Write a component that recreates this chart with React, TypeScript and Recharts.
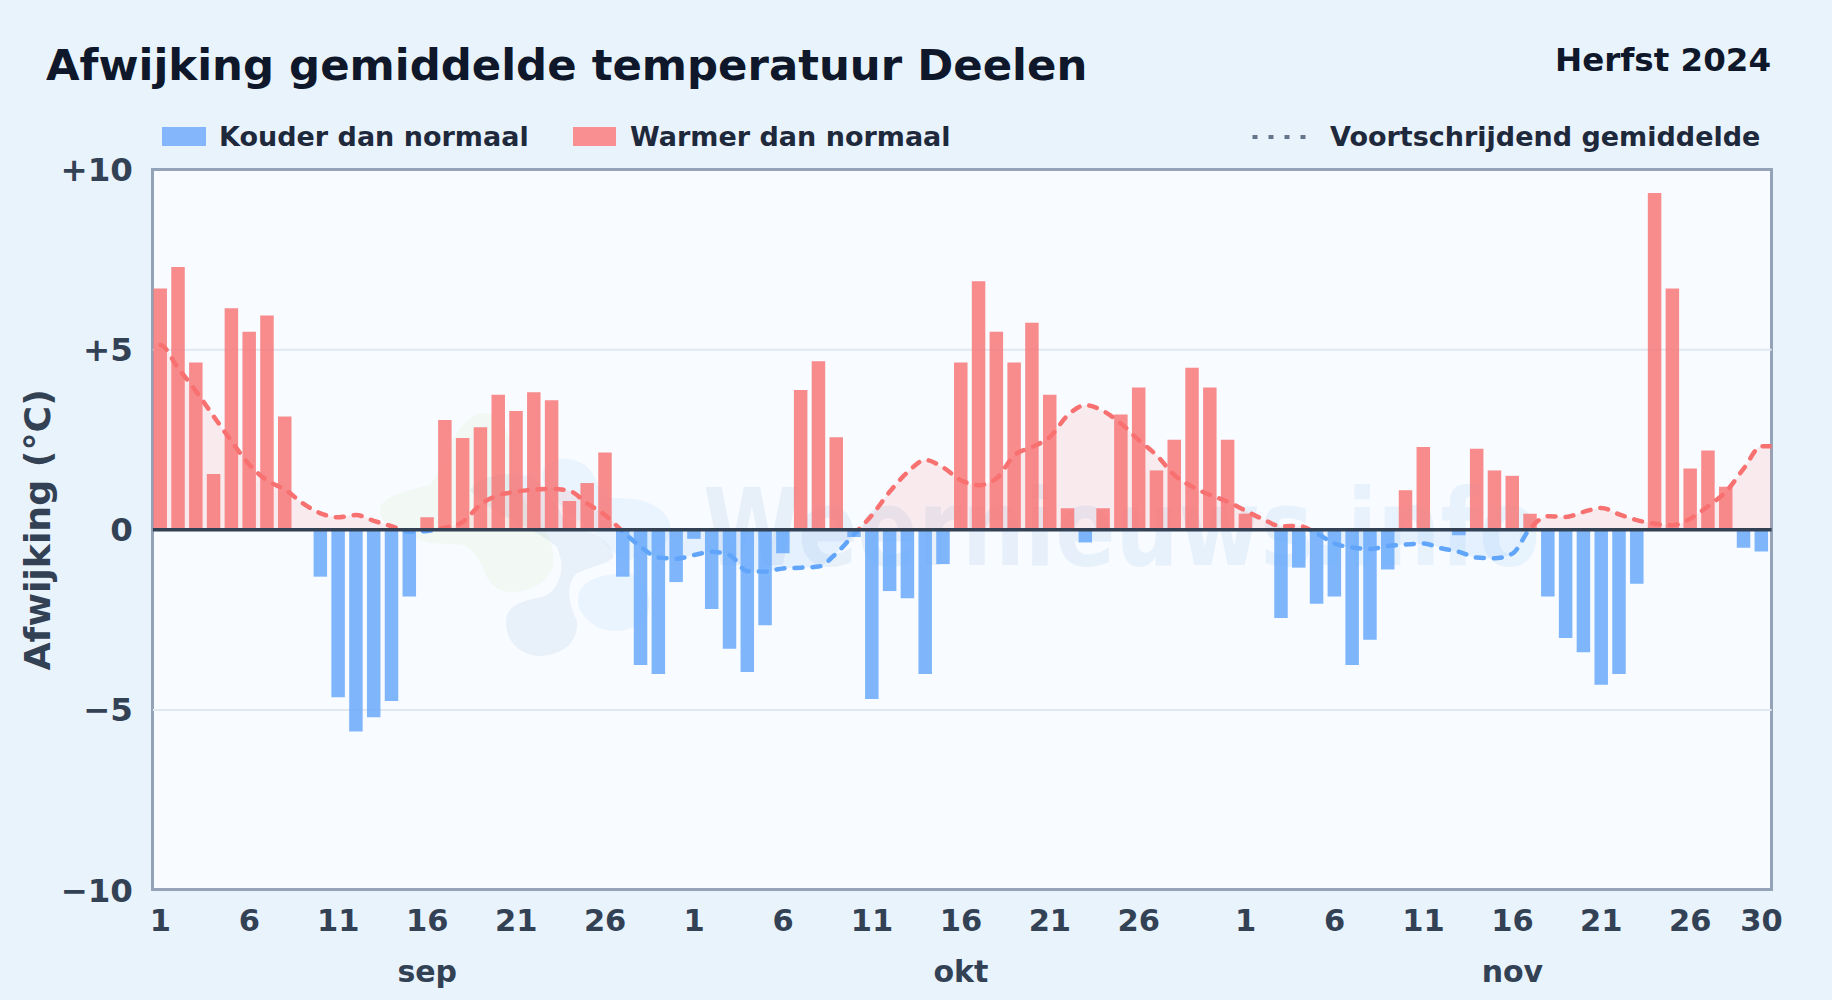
import React from "react";
import { ComposedChart, Area, Bar, XAxis, YAxis, CartesianGrid, ReferenceLine } from "recharts";

const FONT = "'DejaVu Sans', sans-serif";

const deviations = [
  6.7, 7.3, 4.65, 1.55, 6.15, 5.5, 5.95, 3.15, 0, -1.3, -4.65, -5.6, -5.2, -4.75, -1.85, 0.35, 3.05, 2.55, 2.85, 3.75, 3.3, 3.82, 3.6, 0.8, 1.3, 2.15, -1.3, -3.75, -4.0, -1.45,
  -0.25, -2.2, -3.3, -3.95, -2.65, -0.65, 3.88, 4.68, 2.57, -0.2, -4.7, -1.7, -1.9, -4.0, -0.95, 4.65, 6.9, 5.5, 4.65, 5.75, 3.75, 0.6, -0.35, 0.6, 3.2, 3.95, 1.65, 2.5, 4.5, 3.95, 2.5,
  0.45, 0, -2.45, -1.05, -2.05, -1.85, -3.75, -3.05, -1.1, 1.1, 2.3, 0, -0.15, 2.25, 1.65, 1.5, 0.45, -1.85, -3.0, -3.4, -4.3, -4.0, -1.5, 9.35, 6.7, 1.7, 2.2, 1.2, -0.5, -0.6,
];

const rollingAverage = [
  5.13, 4.49, 3.85, 3.15, 2.46, 1.81, 1.37, 1.12, 0.74, 0.46, 0.35, 0.41, 0.25, 0.1, -0.05, -0.03, 0.06, 0.22, 0.71, 0.96, 1.06, 1.12, 1.14, 1.08, 0.73, 0.41, -0.05, -0.47, -0.77, -0.8,
  -0.7, -0.61, -0.7, -1.15, -1.16, -1.07, -1.05, -1.02, -0.65, -0.12, 0.41, 1.06, 1.6, 1.94, 1.73, 1.38, 1.24, 1.43, 2.07, 2.3, 2.58, 3.18, 3.46, 3.3, 2.95, 2.49, 2.07, 1.52, 1.2, 0.97, 0.78,
  0.53, 0.29, 0.1, 0.11, -0.1, -0.38, -0.49, -0.53, -0.45, -0.41, -0.38, -0.51, -0.61, -0.77, -0.79, -0.66, 0.04, 0.38, 0.36, 0.5, 0.61, 0.43, 0.27, 0.17, 0.13, 0.31, 0.66, 1.06, 1.7, 2.32,
];

const tickPositions = [1, 6, 11, 16, 21, 26, 31, 36, 41, 46, 51, 56, 62, 67, 72, 77, 82, 87, 91];
const tickLabels = ["1", "6", "11", "16", "21", "26", "1", "6", "11", "16", "21", "26", "1", "6", "11", "16", "21", "26", "30"];
const monthPositions = [16, 46, 77];
const monthLabels = ["sep", "okt", "nov"];
const yTicks = [10, 5, 0, -5, -10];
const yTickLabels = ["+10", "+5", "0", "\u22125", "\u221210"];

const rows: any[] = [
  { day: 0, avg: rollingAverage[0] },
  ...deviations.map((v, i) => ({
    day: i + 1,
    warm: v > 0 ? v : null,
    cold: v < 0 ? v : null,
    avg: rollingAverage[i],
  })),
  { day: 92, avg: rollingAverage[rollingAverage.length - 1] },
];

const PLOT = { left: 152.9, right: 1771.6, top: 169.7, bottom: 890 };
const AXIS_COLOR = "#334155";

function DayTick(props: any) {
  const { x, payload } = props;
  const i = tickPositions.indexOf(payload.value);
  const m = monthPositions.indexOf(payload.value);
  return (
    <g>
      <text x={x} y={931} textAnchor="middle" fontFamily={FONT} fontWeight={700} fontSize={30.5} fill={AXIS_COLOR}>
        {tickLabels[i]}
      </text>
      {m >= 0 && (
        <text x={x} y={982} textAnchor="middle" fontFamily={FONT} fontWeight={700} fontSize={30} fill={AXIS_COLOR}>
          {monthLabels[m]}
        </text>
      )}
    </g>
  );
}

function Watermark() {
  return (
    <svg width={1832} height={1000} style={{ position: "absolute", left: 0, top: 0 }}>
      <defs>
        <linearGradient id="markText" gradientUnits="userSpaceOnUse" x1={703} x2={1540} y1={0} y2={0}>
          <stop offset="0%" stopColor="#3b78b8" />
          <stop offset="100%" stopColor="#3ba3f0" />
        </linearGradient>
      </defs>
      <g transform="translate(370 400) scale(0.3333)">
        <path d="M30 330 C30 290 110 270 180 255 C220 210 250 60 330 40 C400 30 440 120 420 230 C470 330 560 400 550 490 C540 560 450 590 390 570 C330 540 350 470 280 435 C220 425 170 440 130 410 C70 390 30 370 30 330 Z" fill="#84cc16" opacity={0.05} />
        <path d="M300 270 C340 220 420 215 480 230 C540 260 570 340 600 390 C680 380 730 440 730 470 C720 490 660 500 620 520 C590 550 590 600 620 660 C630 730 570 770 500 768 C430 760 400 700 410 650 C420 610 470 600 520 590 C570 570 590 500 560 440 C510 390 350 340 300 270 Z" fill="#1e5fa8" opacity={0.07} />
        <path d="M520 210 C530 170 620 160 660 210 C690 250 690 290 720 295 C800 290 880 310 900 370 C910 440 840 470 770 480 C730 470 720 440 690 410 C640 370 590 340 560 300 C530 270 510 240 520 210 Z" fill="#3ba3f0" opacity={0.08} />
        <path d="M625 590 C630 540 700 520 780 520 C830 540 850 600 830 650 C790 700 720 700 680 680 C640 650 620 630 625 590 Z" fill="#3ba3f0" opacity={0.08} />
      </g>
      <text x={703} y={565} fontFamily={FONT} fontWeight={700} fontSize={107} textLength={837} lengthAdjust="spacingAndGlyphs" fill="url(#markText)" opacity={0.085}>
        Weernieuws.info
      </text>
    </svg>
  );
}

const legendText: React.CSSProperties = {
  position: "absolute",
  fontFamily: FONT,
  fontWeight: 700,
  fontSize: 27,
  lineHeight: "30px",
  color: "#1e293b",
  whiteSpace: "nowrap",
};

export default function App() {
  return (
    <div style={{ position: "fixed", left: 0, top: 0, width: 1832, height: 1000, background: "#e9f3fc", overflow: "hidden" }}>
      <div style={{ position: "absolute", left: 46, top: 38, fontFamily: FONT, fontWeight: 700, fontSize: 43.4, lineHeight: "54px", color: "#0f172a", whiteSpace: "nowrap" }}>
        Afwijking gemiddelde temperatuur Deelen
      </div>
      <div style={{ position: "absolute", right: 61, top: 40, fontFamily: FONT, fontWeight: 700, fontSize: 32.5, lineHeight: "40px", color: "#0f172a", whiteSpace: "nowrap" }}>
        Herfst 2024
      </div>

      <div style={{ position: "absolute", left: 162, top: 127, width: 44, height: 19, background: "#83b6fa" }} />
      <div style={{ ...legendText, left: 219, top: 122 }}>Kouder dan normaal</div>
      <div style={{ position: "absolute", left: 573, top: 127, width: 43, height: 19, background: "#f98f91" }} />
      <div style={{ ...legendText, left: 630, top: 122 }}>Warmer dan normaal</div>
      <svg width={70} height={10} style={{ position: "absolute", left: 1248, top: 132 }}>
        <line x1={4.5} x2={62} y1={5} y2={5} stroke="#64748b" strokeWidth={4} strokeDasharray="5 11" />
      </svg>
      <div style={{ ...legendText, left: 1330, top: 122 }}>Voortschrijdend gemiddelde</div>

      <div style={{ position: "absolute", left: PLOT.left - 1.5, top: PLOT.top - 1.5, width: PLOT.right - PLOT.left + 3, height: PLOT.bottom - PLOT.top + 3, boxSizing: "border-box", border: "3px solid #94a3b8", background: "#f8fbff" }} />
      <Watermark />

      <div style={{ position: "absolute", left: 0, top: 0 }}>
        <ComposedChart
          width={1832}
          height={1000}
          data={rows}
          margin={{ left: 0, right: 1832 - PLOT.right, top: PLOT.top, bottom: 0 }}
        >
          <defs>
            <linearGradient id="avgStroke" gradientUnits="userSpaceOnUse" x1={0} x2={0} y1={PLOT.top} y2={PLOT.bottom}>
              <stop offset="50%" stopColor="#f87171" />
              <stop offset="50%" stopColor="#60a5fa" />
            </linearGradient>
            <linearGradient id="avgFill" gradientUnits="userSpaceOnUse" x1={0} x2={0} y1={PLOT.top} y2={PLOT.bottom}>
              <stop offset="50%" stopColor="#f87171" stopOpacity={0.12} />
              <stop offset="50%" stopColor="#60a5fa" stopOpacity={0.12} />
            </linearGradient>
          </defs>
          <CartesianGrid horizontal vertical={false} stroke="#e2e8f0" strokeWidth={2} horizontalValues={[5, -5]} />
          <XAxis
            dataKey="day"
            type="number"
            domain={[0.58, 91.57]}
            allowDataOverflow
            ticks={tickPositions}
            interval={0}
            axisLine={false}
            tickLine={false}
            height={110}
            tick={<DayTick />}
          />
          <YAxis
            type="number"
            domain={[-10, 10]}
            ticks={yTicks}
            width={PLOT.left}
            interval={0}
            axisLine={false}
            tickLine={false}
            tickMargin={14}
            tickFormatter={(v: number) => yTickLabels[yTicks.indexOf(v)]}
            tick={{ fontFamily: FONT, fontWeight: 700, fontSize: 32.5, fill: AXIS_COLOR }}
            label={{ value: "Afwijking (\u00b0C)", angle: -90, position: "center", dx: -39, style: { fontFamily: FONT, fontWeight: 700, fontSize: 36.3, fill: AXIS_COLOR } }}
          />
          <Area
            dataKey="avg"
            type="monotone"
            baseValue={0}
            stroke="url(#avgStroke)"
            strokeWidth={4.5}
            strokeDasharray="8 10"
            strokeLinecap="round"
            fill="url(#avgFill)"
            fillOpacity={1}
            dot={false}
            activeDot={false}
            connectNulls
            isAnimationActive={false}
          />
          <Bar dataKey="cold" stackId="d" fill="#60a5fa" fillOpacity={0.8} barSize={13.5} isAnimationActive={false} />
          <Bar dataKey="warm" stackId="d" fill="#f87171" fillOpacity={0.8} barSize={13.5} isAnimationActive={false} />
          <ReferenceLine y={0} stroke={AXIS_COLOR} strokeWidth={3.5} />
        </ComposedChart>
      </div>
    </div>
  );
}
